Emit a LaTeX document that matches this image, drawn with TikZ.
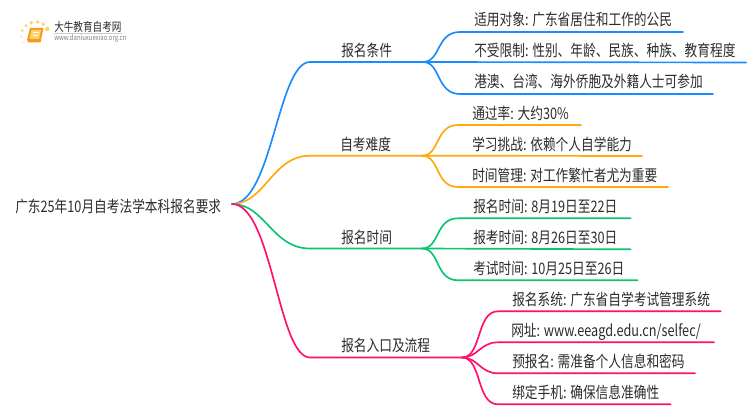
\documentclass[tikz,border=0pt]{standalone}
\usepackage{fontspec}
\setmainfont{Noto Sans CJK SC}[FakeStretch=0.8]
\usepackage{tikz}
\definecolor{bluebr}{HTML}{1A8CFF}
\definecolor{orangebr}{HTML}{FFA90F}
\definecolor{greenbr}{HTML}{0BC56E}
\definecolor{pinkbr}{HTML}{FF0F6E}
\definecolor{ink}{HTML}{2B2B2B}
\definecolor{dot}{HTML}{FFD36B}
\definecolor{book}{HTML}{F59A1B}

\begin{document}
\begin{tikzpicture}[x=0.75pt, y=-0.75pt,
        mapword/.style={anchor=base west, inner sep=0pt, text=ink, font=\fontsize{11.9}{14}\selectfont},
        branch/.style={line width=1.25pt, line cap=round}]
        \useasboundingbox (0, 0) rectangle (750, 410);
        % logo
        \fill[dot] (37.7, 22) circle (1.9);
        \fill[dot] (31.3, 22.7) circle (1.9);
        \fill[dot] (26, 25.7) circle (1.6);
        \fill[dot] (22.3, 30.7) circle (1.4);
        \fill[dot!70] (21.3, 36.7) circle (1.2);
        \fill[dot!50] (23.3, 42.3) circle (1);
        \fill[dot] (43.3, 24.3) circle (1.9);
        \fill[dot] (47.3, 29) circle (2.2);
        \fill[book] (30, 28) -- (43.5, 28) -- (41, 40) -- (40.5, 42.5) -- (28.5, 42.5) -- (27, 40) -- cycle;
        \fill[dot] (31.5, 30) -- (41, 30) -- (39, 39) -- (29.5, 39) -- cycle;
        \draw[white, line width=0.5pt] (33, 32.5) -- (38.5, 32.5);
        \draw[white, line width=0.5pt] (32.5, 35) -- (38, 35);
        \draw (54, 31.5) node(logoname)[anchor=base west, inner sep=0pt, text=ink, font=\fontsize{9}{10}\selectfont]{大牛教育自考网};
        \draw (54, 41) node(logourl)[anchor=base west, inner sep=0pt, text=gray, font=\fontsize{5.6}{6}\selectfont]{www.daniuxuexiao.org.cn};
        \draw[gray!40, line width=0.4pt] (54, 33.5) -- (122, 33.5);

        % root
        \draw (15, 212.5) node(root)[mapword]{广东25年10月自考法学本科报名要求};
        \draw (232, 204) coordinate(hub);

        % first branch
        \draw (341, 57) node(cond)[mapword]{报名条件};
        \draw (310, 62) coordinate(condin);
        \draw (423, 62) coordinate(condhub);
        \draw[branch, bluebr] (hub) .. controls (272, 204) and (278, 62) .. (condin) -- (condhub);
        \draw (474, 26) node(condone)[mapword]{适用对象: 广东省居住和工作的公民};
        \draw (460, 32) coordinate(condonea);
        \draw (683, 32) coordinate(condoneb);
        \draw[branch, bluebr] (condhub) .. controls (441, 62) and (436, 32) .. (condonea) -- (condoneb);
        \draw (474, 56.5) node(condtwo)[mapword]{不受限制: 性别、年龄、民族、种族、教育程度};
        \draw (746, 62.5) coordinate(condtwob);
        \draw[branch, bluebr] (condhub) -- (condtwob);
        \draw (474, 88) node(condthree)[mapword]{港澳、台湾、海外侨胞及外籍人士可参加};
        \draw (460, 94) coordinate(condthreea);
        \draw (713, 94) coordinate(condthreeb);
        \draw[branch, bluebr] (condhub) .. controls (441, 62) and (436, 94) .. (condthreea) -- (condthreeb);

        % second branch
        \draw (340, 150.5) node(diff)[mapword]{自考难度};
        \draw (310, 155.7) coordinate(diffin);
        \draw (422, 155.7) coordinate(diffhub);
        \draw[branch, orangebr] (hub) .. controls (265, 204) and (272, 155.7) .. (diffin) -- (diffhub);
        \draw (472, 119) node(diffone)[mapword]{通过率: 大约30\%};
        \draw (458, 125) coordinate(diffonea);
        \draw (581, 125) coordinate(diffoneb);
        \draw[branch, orangebr] (diffhub) .. controls (440, 155.7) and (435, 125) .. (diffonea) -- (diffoneb);
        \draw (472, 150) node(difftwo)[mapword]{学习挑战: 依赖个人自学能力};
        \draw (642, 156) coordinate(difftwob);
        \draw[branch, orangebr] (diffhub) -- (difftwob);
        \draw (472, 181) node(diffthree)[mapword]{时间管理: 对工作繁忙者尤为重要};
        \draw (458, 187) coordinate(diffthreea);
        \draw (668, 187) coordinate(diffthreeb);
        \draw[branch, orangebr] (diffhub) .. controls (440, 155.7) and (435, 187) .. (diffthreea) -- (diffthreeb);

        % third branch
        \draw (341, 243) node(time)[mapword]{报名时间};
        \draw (310, 248.5) coordinate(timein);
        \draw (422, 248.5) coordinate(timehub);
        \draw[branch, greenbr] (hub) .. controls (265, 204) and (272, 248.5) .. (timein) -- (timehub);
        \draw (473, 212.5) node(timeone)[mapword]{报名时间: 8月19日至22日};
        \draw (458, 218.3) coordinate(timeonea);
        \draw (630.7, 218.3) coordinate(timeoneb);
        \draw[branch, greenbr] (timehub) .. controls (440, 248.5) and (435, 218.3) .. (timeonea) -- (timeoneb);
        \draw (473, 243.5) node(timetwo)[mapword]{报考时间: 8月26日至30日};
        \draw (630.7, 249.3) coordinate(timetwob);
        \draw[branch, greenbr] (timehub) -- (timetwob);
        \draw (473, 274.5) node(timethree)[mapword]{考试时间: 10月25日至26日};
        \draw (458, 280.3) coordinate(timethreea);
        \draw (637.7, 280.3) coordinate(timethreeb);
        \draw[branch, greenbr] (timehub) .. controls (440, 248.5) and (435, 280.3) .. (timethreea) -- (timethreeb);

        % fourth branch
        \draw (341, 351.5) node(entry)[mapword]{报名入口及流程};
        \draw (310, 357.5) coordinate(entryin);
        \draw (462, 357.5) coordinate(entryhub);
        \draw[branch, pinkbr] (hub) .. controls (272, 204) and (278, 357.5) .. (entryin) -- (entryhub);
        \draw (512, 305.5) node(entryone)[mapword]{报名系统: 广东省自学考试管理系统};
        \draw (498, 311.3) coordinate(entryonea);
        \draw (720.7, 311.3) coordinate(entryoneb);
        \draw[branch, pinkbr] (entryhub) .. controls (482, 357.5) and (476, 311.3) .. (entryonea) -- (entryoneb);
        \draw (511, 336.5) node(entrytwo)[mapword]{网址: www.eeagd.edu.cn/selfec/};
        \draw (498, 342.3) coordinate(entrytwoa);
        \draw (714, 342.3) coordinate(entrytwob);
        \draw[branch, pinkbr] (entryhub) .. controls (478, 357.5) and (480, 342.3) .. (entrytwoa) -- (entrytwob);
        \draw (512, 367.5) node(entrythree)[mapword]{预报名: 需准备个人信息和密码};
        \draw (498, 373.3) coordinate(entrythreea);
        \draw (695, 373.3) coordinate(entrythreeb);
        \draw[branch, pinkbr] (entryhub) .. controls (478, 357.5) and (480, 373.3) .. (entrythreea) -- (entrythreeb);
        \draw (512, 398.5) node(entryfour)[mapword]{绑定手机: 确保信息准确性};
        \draw (498, 404.3) coordinate(entryfoura);
        \draw (670.7, 404.3) coordinate(entryfourb);
        \draw[branch, pinkbr] (entryhub) .. controls (482, 357.5) and (476, 404.3) .. (entryfoura) -- (entryfourb);
    \end{tikzpicture}
\end{document}
